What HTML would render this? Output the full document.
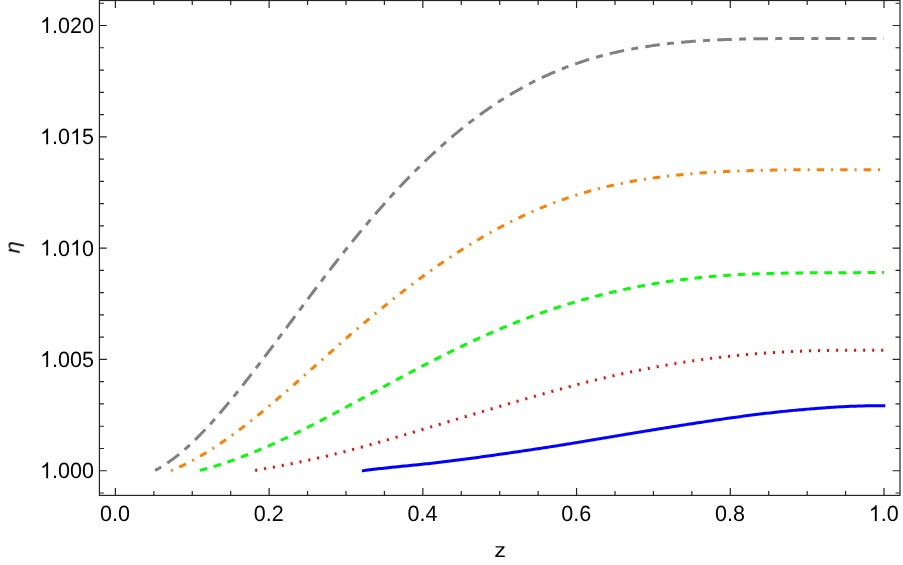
<!DOCTYPE html><html><head><meta charset="utf-8"><style>html,body{margin:0;padding:0;background:#fff}svg{display:block}text{font-family:"Liberation Sans",sans-serif;font-size:22.1px;fill:#000;text-rendering:geometricPrecision}</style></head><body>
<svg width="903" height="565" viewBox="0 0 903 565">
<rect width="903" height="565" fill="#fff"/>
<path d="M361.90 470.90 L363.90 470.62 L365.90 470.35 L367.90 470.08 L369.90 469.82 L371.90 469.57 L373.90 469.32 L375.90 469.08 L377.90 468.84 L379.90 468.61 L381.90 468.39 L383.90 468.16 L385.90 467.94 L387.90 467.73 L389.90 467.51 L391.90 467.31 L393.90 467.10 L395.90 466.89 L397.90 466.69 L399.90 466.49 L401.90 466.29 L403.90 466.09 L405.90 465.89 L407.90 465.69 L409.90 465.49 L411.90 465.29 L413.90 465.09 L415.90 464.89 L417.90 464.69 L419.90 464.48 L421.90 464.28 L423.90 464.07 L425.90 463.85 L427.90 463.64 L429.90 463.42 L431.90 463.20 L433.90 462.97 L435.90 462.75 L437.90 462.52 L439.90 462.28 L441.90 462.05 L443.90 461.81 L445.90 461.56 L447.90 461.32 L449.90 461.07 L451.90 460.82 L453.90 460.57 L455.90 460.32 L457.90 460.06 L459.90 459.80 L461.90 459.54 L463.90 459.28 L465.90 459.01 L467.90 458.75 L469.90 458.48 L471.90 458.21 L473.90 457.94 L475.90 457.67 L477.90 457.39 L479.90 457.12 L481.90 456.84 L483.90 456.57 L485.90 456.29 L487.90 456.01 L489.90 455.73 L491.90 455.45 L493.90 455.16 L495.90 454.88 L497.90 454.60 L499.90 454.31 L501.90 454.03 L503.90 453.74 L505.90 453.46 L507.90 453.17 L509.90 452.88 L511.90 452.59 L513.90 452.30 L515.90 452.01 L517.90 451.72 L519.90 451.42 L521.90 451.13 L523.90 450.83 L525.90 450.54 L527.90 450.24 L529.90 449.94 L531.90 449.64 L533.90 449.34 L535.90 449.04 L537.90 448.74 L539.90 448.43 L541.90 448.12 L543.90 447.82 L545.90 447.51 L547.90 447.20 L549.90 446.89 L551.90 446.57 L553.90 446.26 L555.90 445.94 L557.90 445.63 L559.90 445.31 L561.90 444.99 L563.90 444.67 L565.90 444.34 L567.90 444.02 L569.90 443.69 L571.90 443.37 L573.90 443.04 L575.90 442.71 L577.90 442.38 L579.90 442.05 L581.90 441.72 L583.90 441.39 L585.90 441.06 L587.90 440.72 L589.90 440.39 L591.90 440.05 L593.90 439.72 L595.90 439.38 L597.90 439.05 L599.90 438.71 L601.90 438.38 L603.90 438.04 L605.90 437.70 L607.90 437.37 L609.90 437.03 L611.90 436.70 L613.90 436.36 L615.90 436.03 L617.90 435.69 L619.90 435.36 L621.90 435.02 L623.90 434.69 L625.90 434.35 L627.90 434.02 L629.90 433.69 L631.90 433.36 L633.90 433.03 L635.90 432.70 L637.90 432.37 L639.90 432.04 L641.90 431.71 L643.90 431.38 L645.90 431.05 L647.90 430.73 L649.90 430.40 L651.90 430.07 L653.90 429.75 L655.90 429.42 L657.90 429.10 L659.90 428.78 L661.90 428.46 L663.90 428.13 L665.90 427.81 L667.90 427.49 L669.90 427.17 L671.90 426.85 L673.90 426.54 L675.90 426.22 L677.90 425.90 L679.90 425.59 L681.90 425.27 L683.90 424.96 L685.90 424.64 L687.90 424.33 L689.90 424.02 L691.90 423.71 L693.90 423.40 L695.90 423.09 L697.90 422.78 L699.90 422.47 L701.90 422.16 L703.90 421.86 L705.90 421.56 L707.90 421.25 L709.90 420.95 L711.90 420.65 L713.90 420.35 L715.90 420.06 L717.90 419.76 L719.90 419.47 L721.90 419.18 L723.90 418.89 L725.90 418.60 L727.90 418.31 L729.90 418.03 L731.90 417.75 L733.90 417.47 L735.90 417.19 L737.90 416.92 L739.90 416.65 L741.90 416.38 L743.90 416.11 L745.90 415.84 L747.90 415.58 L749.90 415.32 L751.90 415.07 L753.90 414.81 L755.90 414.56 L757.90 414.32 L759.90 414.07 L761.90 413.83 L763.90 413.59 L765.90 413.35 L767.90 413.12 L769.90 412.89 L771.90 412.67 L773.90 412.44 L775.90 412.22 L777.90 412.00 L779.90 411.79 L781.90 411.58 L783.90 411.37 L785.90 411.17 L787.90 410.96 L789.90 410.77 L791.90 410.57 L793.90 410.38 L795.90 410.19 L797.90 410.00 L799.90 409.82 L801.90 409.64 L803.90 409.46 L805.90 409.29 L807.90 409.12 L809.90 408.95 L811.90 408.79 L813.90 408.63 L815.90 408.47 L817.90 408.32 L819.90 408.17 L821.90 408.02 L823.90 407.88 L825.90 407.74 L827.90 407.60 L829.90 407.47 L831.90 407.34 L833.90 407.22 L835.90 407.10 L837.90 406.98 L839.90 406.87 L841.90 406.76 L843.90 406.66 L845.90 406.56 L847.90 406.46 L849.90 406.37 L851.90 406.29 L853.90 406.21 L855.90 406.14 L857.90 406.07 L859.90 406.00 L861.90 405.94 L863.90 405.89 L865.90 405.84 L867.90 405.80 L869.90 405.77 L871.90 405.74 L873.90 405.71 L875.90 405.70 L877.90 405.69 L879.90 405.68 L881.90 405.68 L883.90 405.68 L885.30 405.68" fill="none" stroke="#0000ff" stroke-width="3.0"/>
<path d="M255.20 470.40 L257.20 470.06 L259.20 469.70 L261.20 469.35 L263.20 468.99 L265.20 468.64 L267.20 468.28 L269.20 467.91 L271.20 467.55 L273.20 467.18 L275.20 466.81 L277.20 466.44 L279.20 466.06 L281.20 465.68 L283.20 465.30 L285.20 464.91 L287.20 464.52 L289.20 464.13 L291.20 463.74 L293.20 463.34 L295.20 462.94 L297.20 462.53 L299.20 462.12 L301.20 461.71 L303.20 461.29 L305.20 460.87 L307.20 460.45 L309.20 460.02 L311.20 459.58 L313.20 459.15 L315.20 458.70 L317.20 458.26 L319.20 457.81 L321.20 457.35 L323.20 456.89 L325.20 456.43 L327.20 455.96 L329.20 455.48 L331.20 455.00 L333.20 454.52 L335.20 454.03 L337.20 453.53 L339.20 453.03 L341.20 452.53 L343.20 452.02 L345.20 451.51 L347.20 450.99 L349.20 450.46 L351.20 449.94 L353.20 449.41 L355.20 448.87 L357.20 448.33 L359.20 447.79 L361.20 447.24 L363.20 446.69 L365.20 446.14 L367.20 445.59 L369.20 445.03 L371.20 444.46 L373.20 443.90 L375.20 443.33 L377.20 442.76 L379.20 442.19 L381.20 441.61 L383.20 441.04 L385.20 440.46 L387.20 439.88 L389.20 439.29 L391.20 438.71 L393.20 438.12 L395.20 437.53 L397.20 436.94 L399.20 436.35 L401.20 435.76 L403.20 435.17 L405.20 434.58 L407.20 433.98 L409.20 433.39 L411.20 432.80 L413.20 432.20 L415.20 431.61 L417.20 431.01 L419.20 430.41 L421.20 429.82 L423.20 429.22 L425.20 428.63 L427.20 428.03 L429.20 427.43 L431.20 426.84 L433.20 426.24 L435.20 425.65 L437.20 425.05 L439.20 424.45 L441.20 423.86 L443.20 423.26 L445.20 422.66 L447.20 422.07 L449.20 421.47 L451.20 420.87 L453.20 420.28 L455.20 419.68 L457.20 419.08 L459.20 418.49 L461.20 417.89 L463.20 417.29 L465.20 416.70 L467.20 416.10 L469.20 415.51 L471.20 414.91 L473.20 414.31 L475.20 413.72 L477.20 413.12 L479.20 412.53 L481.20 411.94 L483.20 411.34 L485.20 410.75 L487.20 410.15 L489.20 409.56 L491.20 408.97 L493.20 408.37 L495.20 407.78 L497.20 407.19 L499.20 406.60 L501.20 406.01 L503.20 405.42 L505.20 404.83 L507.20 404.24 L509.20 403.65 L511.20 403.06 L513.20 402.48 L515.20 401.89 L517.20 401.31 L519.20 400.72 L521.20 400.14 L523.20 399.56 L525.20 398.98 L527.20 398.41 L529.20 397.83 L531.20 397.26 L533.20 396.68 L535.20 396.11 L537.20 395.54 L539.20 394.98 L541.20 394.41 L543.20 393.85 L545.20 393.29 L547.20 392.73 L549.20 392.17 L551.20 391.61 L553.20 391.06 L555.20 390.51 L557.20 389.96 L559.20 389.42 L561.20 388.87 L563.20 388.33 L565.20 387.80 L567.20 387.26 L569.20 386.73 L571.20 386.20 L573.20 385.67 L575.20 385.15 L577.20 384.63 L579.20 384.11 L581.20 383.60 L583.20 383.09 L585.20 382.58 L587.20 382.07 L589.20 381.57 L591.20 381.07 L593.20 380.58 L595.20 380.09 L597.20 379.60 L599.20 379.11 L601.20 378.63 L603.20 378.16 L605.20 377.68 L607.20 377.21 L609.20 376.74 L611.20 376.28 L613.20 375.82 L615.20 375.36 L617.20 374.91 L619.20 374.46 L621.20 374.02 L623.20 373.58 L625.20 373.14 L627.20 372.71 L629.20 372.28 L631.20 371.85 L633.20 371.43 L635.20 371.02 L637.20 370.60 L639.20 370.20 L641.20 369.79 L643.20 369.39 L645.20 369.00 L647.20 368.61 L649.20 368.22 L651.20 367.84 L653.20 367.46 L655.20 367.09 L657.20 366.72 L659.20 366.35 L661.20 365.99 L663.20 365.64 L665.20 365.28 L667.20 364.94 L669.20 364.59 L671.20 364.25 L673.20 363.92 L675.20 363.59 L677.20 363.26 L679.20 362.94 L681.20 362.63 L683.20 362.31 L685.20 362.00 L687.20 361.70 L689.20 361.40 L691.20 361.10 L693.20 360.81 L695.20 360.52 L697.20 360.24 L699.20 359.96 L701.20 359.69 L703.20 359.42 L705.20 359.15 L707.20 358.89 L709.20 358.63 L711.20 358.38 L713.20 358.13 L715.20 357.88 L717.20 357.64 L719.20 357.40 L721.20 357.17 L723.20 356.94 L725.20 356.72 L727.20 356.50 L729.20 356.28 L731.20 356.07 L733.20 355.86 L735.20 355.66 L737.20 355.45 L739.20 355.26 L741.20 355.07 L743.20 354.88 L745.20 354.69 L747.20 354.51 L749.20 354.34 L751.20 354.17 L753.20 354.00 L755.20 353.83 L757.20 353.67 L759.20 353.52 L761.20 353.37 L763.20 353.22 L765.20 353.07 L767.20 352.93 L769.20 352.80 L771.20 352.66 L773.20 352.54 L775.20 352.41 L777.20 352.29 L779.20 352.17 L781.20 352.06 L783.20 351.95 L785.20 351.84 L787.20 351.74 L789.20 351.64 L791.20 351.55 L793.20 351.46 L795.20 351.37 L797.20 351.29 L799.20 351.21 L801.20 351.13 L803.20 351.06 L805.20 350.99 L807.20 350.93 L809.20 350.87 L811.20 350.81 L813.20 350.76 L815.20 350.71 L817.20 350.66 L819.20 350.61 L821.20 350.57 L823.20 350.53 L825.20 350.50 L827.20 350.46 L829.20 350.43 L831.20 350.41 L833.20 350.38 L835.20 350.36 L837.20 350.34 L839.20 350.32 L841.20 350.30 L843.20 350.28 L845.20 350.27 L847.20 350.26 L849.20 350.25 L851.20 350.24 L853.20 350.23 L855.20 350.22 L857.20 350.22 L859.20 350.21 L861.20 350.21 L863.20 350.21 L865.20 350.20 L867.20 350.20 L869.20 350.20 L871.20 350.20 L873.20 350.20 L875.20 350.20 L877.20 350.20 L879.20 350.20 L881.20 350.20 L883.20 350.20 L884.00 350.20" fill="none" stroke="#ff0000" stroke-width="3.0" stroke-dasharray="2.00 7.02"/>
<path d="M199.80 470.40 L201.80 469.88 L203.80 469.34 L205.80 468.79 L207.80 468.23 L209.80 467.66 L211.80 467.07 L213.80 466.47 L215.80 465.86 L217.80 465.24 L219.80 464.61 L221.80 463.96 L223.80 463.31 L225.80 462.64 L227.80 461.96 L229.80 461.27 L231.80 460.57 L233.80 459.86 L235.80 459.14 L237.80 458.40 L239.80 457.66 L241.80 456.91 L243.80 456.15 L245.80 455.37 L247.80 454.59 L249.80 453.80 L251.80 453.00 L253.80 452.19 L255.80 451.37 L257.80 450.54 L259.80 449.70 L261.80 448.86 L263.80 448.00 L265.80 447.14 L267.80 446.27 L269.80 445.39 L271.80 444.50 L273.80 443.60 L275.80 442.70 L277.80 441.79 L279.80 440.87 L281.80 439.94 L283.80 439.01 L285.80 438.06 L287.80 437.12 L289.80 436.16 L291.80 435.20 L293.80 434.23 L295.80 433.26 L297.80 432.28 L299.80 431.29 L301.80 430.30 L303.80 429.30 L305.80 428.30 L307.80 427.29 L309.80 426.28 L311.80 425.26 L313.80 424.24 L315.80 423.21 L317.80 422.18 L319.80 421.14 L321.80 420.10 L323.80 419.05 L325.80 418.01 L327.80 416.95 L329.80 415.90 L331.80 414.84 L333.80 413.78 L335.80 412.71 L337.80 411.65 L339.80 410.57 L341.80 409.50 L343.80 408.43 L345.80 407.35 L347.80 406.27 L349.80 405.19 L351.80 404.11 L353.80 403.03 L355.80 401.94 L357.80 400.86 L359.80 399.77 L361.80 398.68 L363.80 397.59 L365.80 396.50 L367.80 395.42 L369.80 394.33 L371.80 393.24 L373.80 392.15 L375.80 391.06 L377.80 389.97 L379.80 388.89 L381.80 387.80 L383.80 386.72 L385.80 385.63 L387.80 384.55 L389.80 383.47 L391.80 382.39 L393.80 381.31 L395.80 380.23 L397.80 379.15 L399.80 378.08 L401.80 377.01 L403.80 375.93 L405.80 374.87 L407.80 373.80 L409.80 372.74 L411.80 371.68 L413.80 370.62 L415.80 369.56 L417.80 368.51 L419.80 367.46 L421.80 366.41 L423.80 365.37 L425.80 364.33 L427.80 363.29 L429.80 362.26 L431.80 361.23 L433.80 360.20 L435.80 359.18 L437.80 358.16 L439.80 357.14 L441.80 356.13 L443.80 355.13 L445.80 354.13 L447.80 353.13 L449.80 352.14 L451.80 351.15 L453.80 350.17 L455.80 349.19 L457.80 348.22 L459.80 347.26 L461.80 346.30 L463.80 345.34 L465.80 344.39 L467.80 343.44 L469.80 342.50 L471.80 341.57 L473.80 340.64 L475.80 339.72 L477.80 338.80 L479.80 337.89 L481.80 336.98 L483.80 336.08 L485.80 335.19 L487.80 334.30 L489.80 333.42 L491.80 332.54 L493.80 331.67 L495.80 330.81 L497.80 329.95 L499.80 329.09 L501.80 328.25 L503.80 327.41 L505.80 326.57 L507.80 325.75 L509.80 324.93 L511.80 324.12 L513.80 323.31 L515.80 322.51 L517.80 321.72 L519.80 320.94 L521.80 320.16 L523.80 319.39 L525.80 318.62 L527.80 317.86 L529.80 317.11 L531.80 316.37 L533.80 315.63 L535.80 314.91 L537.80 314.18 L539.80 313.47 L541.80 312.76 L543.80 312.06 L545.80 311.37 L547.80 310.68 L549.80 310.00 L551.80 309.33 L553.80 308.66 L555.80 308.00 L557.80 307.35 L559.80 306.71 L561.80 306.07 L563.80 305.44 L565.80 304.81 L567.80 304.19 L569.80 303.58 L571.80 302.98 L573.80 302.38 L575.80 301.79 L577.80 301.21 L579.80 300.63 L581.80 300.06 L583.80 299.50 L585.80 298.94 L587.80 298.39 L589.80 297.84 L591.80 297.31 L593.80 296.77 L595.80 296.25 L597.80 295.73 L599.80 295.22 L601.80 294.71 L603.80 294.21 L605.80 293.72 L607.80 293.23 L609.80 292.75 L611.80 292.28 L613.80 291.81 L615.80 291.35 L617.80 290.89 L619.80 290.44 L621.80 290.00 L623.80 289.56 L625.80 289.13 L627.80 288.71 L629.80 288.29 L631.80 287.88 L633.80 287.48 L635.80 287.08 L637.80 286.69 L639.80 286.31 L641.80 285.93 L643.80 285.55 L645.80 285.19 L647.80 284.83 L649.80 284.48 L651.80 284.13 L653.80 283.79 L655.80 283.45 L657.80 283.12 L659.80 282.80 L661.80 282.48 L663.80 282.17 L665.80 281.87 L667.80 281.57 L669.80 281.28 L671.80 280.99 L673.80 280.71 L675.80 280.43 L677.80 280.16 L679.80 279.90 L681.80 279.64 L683.80 279.39 L685.80 279.14 L687.80 278.90 L689.80 278.67 L691.80 278.44 L693.80 278.22 L695.80 278.00 L697.80 277.79 L699.80 277.58 L701.80 277.38 L703.80 277.18 L705.80 276.99 L707.80 276.81 L709.80 276.63 L711.80 276.46 L713.80 276.29 L715.80 276.13 L717.80 275.97 L719.80 275.82 L721.80 275.67 L723.80 275.53 L725.80 275.39 L727.80 275.26 L729.80 275.13 L731.80 275.01 L733.80 274.89 L735.80 274.77 L737.80 274.67 L739.80 274.56 L741.80 274.46 L743.80 274.36 L745.80 274.27 L747.80 274.18 L749.80 274.10 L751.80 274.02 L753.80 273.94 L755.80 273.87 L757.80 273.80 L759.80 273.73 L761.80 273.67 L763.80 273.60 L765.80 273.55 L767.80 273.49 L769.80 273.44 L771.80 273.39 L773.80 273.34 L775.80 273.29 L777.80 273.25 L779.80 273.21 L781.80 273.17 L783.80 273.14 L785.80 273.10 L787.80 273.07 L789.80 273.04 L791.80 273.01 L793.80 272.98 L795.80 272.95 L797.80 272.93 L799.80 272.91 L801.80 272.88 L803.80 272.86 L805.80 272.84 L807.80 272.83 L809.80 272.81 L811.80 272.79 L813.80 272.78 L815.80 272.76 L817.80 272.75 L819.80 272.74 L821.80 272.72 L823.80 272.71 L825.80 272.70 L827.80 272.70 L829.80 272.69 L831.80 272.68 L833.80 272.67 L835.80 272.67 L837.80 272.66 L839.80 272.65 L841.80 272.65 L843.80 272.65 L845.80 272.64 L847.80 272.64 L849.80 272.64 L851.80 272.63 L853.80 272.63 L855.80 272.63 L857.80 272.63 L859.80 272.62 L861.80 272.62 L863.80 272.62 L865.80 272.62 L867.80 272.62 L869.80 272.62 L871.80 272.61 L873.80 272.61 L875.80 272.61 L877.80 272.61 L879.80 272.61 L881.80 272.60 L883.80 272.60 L884.00 272.60" fill="none" stroke="#00ff00" stroke-width="3.0" stroke-dasharray="7.60 6.84"/>
<path d="M171.00 470.60 L173.00 469.79 L175.00 468.95 L177.00 468.08 L179.00 467.19 L181.00 466.27 L183.00 465.33 L185.00 464.36 L187.00 463.36 L189.00 462.34 L191.00 461.30 L193.00 460.24 L195.00 459.15 L197.00 458.04 L199.00 456.90 L201.00 455.75 L203.00 454.57 L205.00 453.37 L207.00 452.15 L209.00 450.91 L211.00 449.65 L213.00 448.37 L215.00 447.08 L217.00 445.76 L219.00 444.42 L221.00 443.07 L223.00 441.70 L225.00 440.31 L227.00 438.90 L229.00 437.48 L231.00 436.04 L233.00 434.59 L235.00 433.12 L237.00 431.64 L239.00 430.14 L241.00 428.62 L243.00 427.10 L245.00 425.56 L247.00 424.00 L249.00 422.44 L251.00 420.86 L253.00 419.27 L255.00 417.67 L257.00 416.05 L259.00 414.43 L261.00 412.79 L263.00 411.15 L265.00 409.50 L267.00 407.83 L269.00 406.16 L271.00 404.48 L273.00 402.79 L275.00 401.09 L277.00 399.39 L279.00 397.68 L281.00 395.96 L283.00 394.23 L285.00 392.50 L287.00 390.76 L289.00 389.02 L291.00 387.27 L293.00 385.52 L295.00 383.76 L297.00 382.00 L299.00 380.24 L301.00 378.47 L303.00 376.70 L305.00 374.92 L307.00 373.14 L309.00 371.37 L311.00 369.59 L313.00 367.81 L315.00 366.03 L317.00 364.24 L319.00 362.46 L321.00 360.68 L323.00 358.90 L325.00 357.12 L327.00 355.34 L329.00 353.56 L331.00 351.79 L333.00 350.02 L335.00 348.25 L337.00 346.48 L339.00 344.72 L341.00 342.96 L343.00 341.20 L345.00 339.45 L347.00 337.71 L349.00 335.96 L351.00 334.23 L353.00 332.50 L355.00 330.78 L357.00 329.06 L359.00 327.35 L361.00 325.64 L363.00 323.94 L365.00 322.25 L367.00 320.56 L369.00 318.88 L371.00 317.21 L373.00 315.54 L375.00 313.88 L377.00 312.22 L379.00 310.58 L381.00 308.94 L383.00 307.31 L385.00 305.68 L387.00 304.06 L389.00 302.45 L391.00 300.85 L393.00 299.25 L395.00 297.66 L397.00 296.09 L399.00 294.51 L401.00 292.95 L403.00 291.39 L405.00 289.85 L407.00 288.31 L409.00 286.78 L411.00 285.25 L413.00 283.74 L415.00 282.23 L417.00 280.74 L419.00 279.25 L421.00 277.77 L423.00 276.30 L425.00 274.84 L427.00 273.39 L429.00 271.95 L431.00 270.52 L433.00 269.10 L435.00 267.68 L437.00 266.28 L439.00 264.89 L441.00 263.51 L443.00 262.13 L445.00 260.77 L447.00 259.42 L449.00 258.07 L451.00 256.74 L453.00 255.42 L455.00 254.11 L457.00 252.81 L459.00 251.51 L461.00 250.23 L463.00 248.96 L465.00 247.70 L467.00 246.45 L469.00 245.21 L471.00 243.98 L473.00 242.77 L475.00 241.56 L477.00 240.36 L479.00 239.18 L481.00 238.00 L483.00 236.83 L485.00 235.68 L487.00 234.54 L489.00 233.41 L491.00 232.28 L493.00 231.17 L495.00 230.08 L497.00 228.99 L499.00 227.91 L501.00 226.85 L503.00 225.79 L505.00 224.75 L507.00 223.72 L509.00 222.70 L511.00 221.69 L513.00 220.70 L515.00 219.71 L517.00 218.74 L519.00 217.78 L521.00 216.83 L523.00 215.89 L525.00 214.96 L527.00 214.05 L529.00 213.14 L531.00 212.25 L533.00 211.37 L535.00 210.50 L537.00 209.65 L539.00 208.80 L541.00 207.97 L543.00 207.15 L545.00 206.34 L547.00 205.54 L549.00 204.75 L551.00 203.97 L553.00 203.21 L555.00 202.45 L557.00 201.71 L559.00 200.98 L561.00 200.26 L563.00 199.54 L565.00 198.85 L567.00 198.16 L569.00 197.48 L571.00 196.81 L573.00 196.15 L575.00 195.51 L577.00 194.87 L579.00 194.25 L581.00 193.63 L583.00 193.03 L585.00 192.44 L587.00 191.85 L589.00 191.28 L591.00 190.72 L593.00 190.17 L595.00 189.62 L597.00 189.09 L599.00 188.57 L601.00 188.06 L603.00 187.56 L605.00 187.06 L607.00 186.58 L609.00 186.11 L611.00 185.65 L613.00 185.19 L615.00 184.75 L617.00 184.32 L619.00 183.89 L621.00 183.48 L623.00 183.07 L625.00 182.68 L627.00 182.29 L629.00 181.91 L631.00 181.54 L633.00 181.18 L635.00 180.83 L637.00 180.48 L639.00 180.14 L641.00 179.82 L643.00 179.50 L645.00 179.18 L647.00 178.88 L649.00 178.58 L651.00 178.29 L653.00 178.00 L655.00 177.72 L657.00 177.45 L659.00 177.19 L661.00 176.93 L663.00 176.68 L665.00 176.44 L667.00 176.20 L669.00 175.97 L671.00 175.74 L673.00 175.52 L675.00 175.31 L677.00 175.10 L679.00 174.89 L681.00 174.70 L683.00 174.51 L685.00 174.32 L687.00 174.14 L689.00 173.96 L691.00 173.79 L693.00 173.62 L695.00 173.46 L697.00 173.31 L699.00 173.15 L701.00 173.01 L703.00 172.86 L705.00 172.72 L707.00 172.59 L709.00 172.46 L711.00 172.33 L713.00 172.21 L715.00 172.09 L717.00 171.98 L719.00 171.87 L721.00 171.76 L723.00 171.66 L725.00 171.56 L727.00 171.46 L729.00 171.37 L731.00 171.28 L733.00 171.20 L735.00 171.12 L737.00 171.04 L739.00 170.96 L741.00 170.89 L743.00 170.83 L745.00 170.76 L747.00 170.70 L749.00 170.64 L751.00 170.58 L753.00 170.52 L755.00 170.47 L757.00 170.42 L759.00 170.37 L761.00 170.33 L763.00 170.28 L765.00 170.24 L767.00 170.20 L769.00 170.16 L771.00 170.13 L773.00 170.10 L775.00 170.06 L777.00 170.03 L779.00 170.01 L781.00 169.98 L783.00 169.96 L785.00 169.93 L787.00 169.91 L789.00 169.89 L791.00 169.88 L793.00 169.86 L795.00 169.84 L797.00 169.83 L799.00 169.82 L801.00 169.81 L803.00 169.80 L805.00 169.79 L807.00 169.78 L809.00 169.78 L811.00 169.77 L813.00 169.77 L815.00 169.77 L817.00 169.77 L819.00 169.76 L821.00 169.76 L823.00 169.76 L825.00 169.76 L827.00 169.76 L829.00 169.76 L831.00 169.76 L833.00 169.76 L835.00 169.76 L837.00 169.76 L839.00 169.76 L841.00 169.76 L843.00 169.76 L845.00 169.76 L847.00 169.76 L849.00 169.76 L851.00 169.76 L853.00 169.76 L855.00 169.76 L857.00 169.76 L859.00 169.76 L861.00 169.76 L863.00 169.76 L865.00 169.76 L867.00 169.76 L869.00 169.76 L871.00 169.76 L873.00 169.76 L875.00 169.76 L877.00 169.76 L879.00 169.76 L881.00 169.76 L883.00 169.76 L884.00 169.76" fill="none" stroke="#ff8000" stroke-width="3.0" stroke-dasharray="2.00 7.08 7.30 7.08"/>
<path d="M155.10 470.40 L157.10 469.33 L159.10 468.21 L161.10 467.03 L163.10 465.80 L165.10 464.53 L167.10 463.20 L169.10 461.82 L171.10 460.39 L173.10 458.92 L175.10 457.39 L177.10 455.83 L179.10 454.22 L181.10 452.56 L183.10 450.86 L185.10 449.13 L187.10 447.35 L189.10 445.53 L191.10 443.67 L193.10 441.77 L195.10 439.84 L197.10 437.87 L199.10 435.86 L201.10 433.82 L203.10 431.75 L205.10 429.65 L207.10 427.51 L209.10 425.35 L211.10 423.16 L213.10 420.93 L215.10 418.68 L217.10 416.41 L219.10 414.10 L221.10 411.78 L223.10 409.43 L225.10 407.05 L227.10 404.66 L229.10 402.24 L231.10 399.81 L233.10 397.36 L235.10 394.89 L237.10 392.40 L239.10 389.89 L241.10 387.37 L243.10 384.84 L245.10 382.29 L247.10 379.74 L249.10 377.17 L251.10 374.59 L253.10 372.00 L255.10 369.39 L257.10 366.78 L259.10 364.17 L261.10 361.54 L263.10 358.90 L265.10 356.26 L267.10 353.61 L269.10 350.96 L271.10 348.30 L273.10 345.63 L275.10 342.96 L277.10 340.29 L279.10 337.61 L281.10 334.93 L283.10 332.24 L285.10 329.56 L287.10 326.87 L289.10 324.18 L291.10 321.49 L293.10 318.80 L295.10 316.11 L297.10 313.43 L299.10 310.74 L301.10 308.05 L303.10 305.37 L305.10 302.69 L307.10 300.02 L309.10 297.35 L311.10 294.68 L313.10 292.02 L315.10 289.36 L317.10 286.71 L319.10 284.07 L321.10 281.43 L323.10 278.80 L325.10 276.18 L327.10 273.57 L329.10 270.96 L331.10 268.37 L333.10 265.78 L335.10 263.21 L337.10 260.65 L339.10 258.10 L341.10 255.56 L343.10 253.03 L345.10 250.52 L347.10 248.02 L349.10 245.53 L351.10 243.05 L353.10 240.59 L355.10 238.13 L357.10 235.70 L359.10 233.27 L361.10 230.86 L363.10 228.46 L365.10 226.07 L367.10 223.70 L369.10 221.33 L371.10 218.99 L373.10 216.66 L375.10 214.34 L377.10 212.03 L379.10 209.74 L381.10 207.46 L383.10 205.20 L385.10 202.95 L387.10 200.72 L389.10 198.50 L391.10 196.30 L393.10 194.11 L395.10 191.93 L397.10 189.78 L399.10 187.63 L401.10 185.50 L403.10 183.39 L405.10 181.29 L407.10 179.21 L409.10 177.15 L411.10 175.10 L413.10 173.06 L415.10 171.04 L417.10 169.04 L419.10 167.06 L421.10 165.09 L423.10 163.14 L425.10 161.20 L427.10 159.28 L429.10 157.38 L431.10 155.50 L433.10 153.63 L435.10 151.78 L437.10 149.95 L439.10 148.13 L441.10 146.34 L443.10 144.55 L445.10 142.79 L447.10 141.04 L449.10 139.31 L451.10 137.60 L453.10 135.90 L455.10 134.22 L457.10 132.56 L459.10 130.91 L461.10 129.29 L463.10 127.67 L465.10 126.08 L467.10 124.50 L469.10 122.94 L471.10 121.40 L473.10 119.87 L475.10 118.36 L477.10 116.87 L479.10 115.40 L481.10 113.94 L483.10 112.50 L485.10 111.07 L487.10 109.66 L489.10 108.27 L491.10 106.90 L493.10 105.54 L495.10 104.20 L497.10 102.88 L499.10 101.58 L501.10 100.29 L503.10 99.02 L505.10 97.76 L507.10 96.52 L509.10 95.30 L511.10 94.10 L513.10 92.91 L515.10 91.74 L517.10 90.59 L519.10 89.45 L521.10 88.33 L523.10 87.23 L525.10 86.14 L527.10 85.07 L529.10 84.02 L531.10 82.98 L533.10 81.96 L535.10 80.96 L537.10 79.97 L539.10 79.00 L541.10 78.04 L543.10 77.10 L545.10 76.17 L547.10 75.26 L549.10 74.36 L551.10 73.48 L553.10 72.62 L555.10 71.76 L557.10 70.93 L559.10 70.10 L561.10 69.30 L563.10 68.50 L565.10 67.72 L567.10 66.95 L569.10 66.20 L571.10 65.46 L573.10 64.74 L575.10 64.03 L577.10 63.33 L579.10 62.64 L581.10 61.97 L583.10 61.31 L585.10 60.66 L587.10 60.03 L589.10 59.41 L591.10 58.80 L593.10 58.20 L595.10 57.62 L597.10 57.04 L599.10 56.48 L601.10 55.93 L603.10 55.40 L605.10 54.87 L607.10 54.36 L609.10 53.87 L611.10 53.38 L613.10 52.91 L615.10 52.45 L617.10 52.00 L619.10 51.56 L621.10 51.13 L623.10 50.72 L625.10 50.31 L627.10 49.92 L629.10 49.53 L631.10 49.16 L633.10 48.79 L635.10 48.44 L637.10 48.09 L639.10 47.75 L641.10 47.42 L643.10 47.10 L645.10 46.79 L647.10 46.48 L649.10 46.19 L651.10 45.89 L653.10 45.61 L655.10 45.33 L657.10 45.06 L659.10 44.80 L661.10 44.54 L663.10 44.29 L665.10 44.05 L667.10 43.81 L669.10 43.58 L671.10 43.36 L673.10 43.14 L675.10 42.93 L677.10 42.73 L679.10 42.54 L681.10 42.35 L683.10 42.16 L685.10 41.99 L687.10 41.82 L689.10 41.65 L691.10 41.49 L693.10 41.34 L695.10 41.19 L697.10 41.05 L699.10 40.92 L701.10 40.79 L703.10 40.66 L705.10 40.54 L707.10 40.42 L709.10 40.31 L711.10 40.21 L713.10 40.11 L715.10 40.01 L717.10 39.92 L719.10 39.83 L721.10 39.75 L723.10 39.67 L725.10 39.60 L727.10 39.52 L729.10 39.46 L731.10 39.39 L733.10 39.33 L735.10 39.27 L737.10 39.22 L739.10 39.16 L741.10 39.11 L743.10 39.07 L745.10 39.02 L747.10 38.98 L749.10 38.94 L751.10 38.91 L753.10 38.87 L755.10 38.84 L757.10 38.81 L759.10 38.79 L761.10 38.76 L763.10 38.74 L765.10 38.72 L767.10 38.70 L769.10 38.68 L771.10 38.66 L773.10 38.64 L775.10 38.63 L777.10 38.62 L779.10 38.61 L781.10 38.60 L783.10 38.59 L785.10 38.58 L787.10 38.57 L789.10 38.56 L791.10 38.55 L793.10 38.55 L795.10 38.54 L797.10 38.54 L799.10 38.53 L801.10 38.53 L803.10 38.52 L805.10 38.52 L807.10 38.51 L809.10 38.51 L811.10 38.50 L813.10 38.50 L815.10 38.49 L817.10 38.49 L819.10 38.48 L821.10 38.48 L823.10 38.48 L825.10 38.47 L827.10 38.47 L829.10 38.46 L831.10 38.46 L833.10 38.46 L835.10 38.45 L837.10 38.45 L839.10 38.45 L841.10 38.44 L843.10 38.44 L845.10 38.44 L847.10 38.43 L849.10 38.43 L851.10 38.43 L853.10 38.43 L855.10 38.43 L857.10 38.43 L859.10 38.43 L861.10 38.43 L863.10 38.43 L865.10 38.43 L867.10 38.43 L869.10 38.43 L871.10 38.43 L873.10 38.43 L875.10 38.43 L877.10 38.43 L879.10 38.43 L881.10 38.43 L883.10 38.43 L884.00 38.43" fill="none" stroke="#808080" stroke-width="3.0" stroke-dasharray="7.00 7.22 14.70 7.22"/>
<path d="M115.40 495.42 v-7.40 M115.40 0.50 v7.40 M153.83 495.42 v-4.50 M153.83 0.50 v4.50 M192.26 495.42 v-4.50 M192.26 0.50 v4.50 M230.69 495.42 v-4.50 M230.69 0.50 v4.50 M269.12 495.42 v-7.40 M269.12 0.50 v7.40 M307.55 495.42 v-4.50 M307.55 0.50 v4.50 M345.98 495.42 v-4.50 M345.98 0.50 v4.50 M384.41 495.42 v-4.50 M384.41 0.50 v4.50 M422.84 495.42 v-7.40 M422.84 0.50 v7.40 M461.27 495.42 v-4.50 M461.27 0.50 v4.50 M499.70 495.42 v-4.50 M499.70 0.50 v4.50 M538.13 495.42 v-4.50 M538.13 0.50 v4.50 M576.56 495.42 v-7.40 M576.56 0.50 v7.40 M614.99 495.42 v-4.50 M614.99 0.50 v4.50 M653.42 495.42 v-4.50 M653.42 0.50 v4.50 M691.85 495.42 v-4.50 M691.85 0.50 v4.50 M730.28 495.42 v-7.40 M730.28 0.50 v7.40 M768.71 495.42 v-4.50 M768.71 0.50 v4.50 M807.14 495.42 v-4.50 M807.14 0.50 v4.50 M845.57 495.42 v-4.50 M845.57 0.50 v4.50 M884.00 495.42 v-7.40 M884.00 0.50 v7.40 M99.42 493.02 h4.50 M900.00 493.02 h-4.50 M99.42 470.76 h7.40 M900.00 470.76 h-7.40 M99.42 448.50 h4.50 M900.00 448.50 h-4.50 M99.42 426.23 h4.50 M900.00 426.23 h-4.50 M99.42 403.97 h4.50 M900.00 403.97 h-4.50 M99.42 381.71 h4.50 M900.00 381.71 h-4.50 M99.42 359.44 h7.40 M900.00 359.44 h-7.40 M99.42 337.18 h4.50 M900.00 337.18 h-4.50 M99.42 314.92 h4.50 M900.00 314.92 h-4.50 M99.42 292.66 h4.50 M900.00 292.66 h-4.50 M99.42 270.39 h4.50 M900.00 270.39 h-4.50 M99.42 248.13 h7.40 M900.00 248.13 h-7.40 M99.42 225.87 h4.50 M900.00 225.87 h-4.50 M99.42 203.60 h4.50 M900.00 203.60 h-4.50 M99.42 181.34 h4.50 M900.00 181.34 h-4.50 M99.42 159.08 h4.50 M900.00 159.08 h-4.50 M99.42 136.81 h7.40 M900.00 136.81 h-7.40 M99.42 114.55 h4.50 M900.00 114.55 h-4.50 M99.42 92.29 h4.50 M900.00 92.29 h-4.50 M99.42 70.03 h4.50 M900.00 70.03 h-4.50 M99.42 47.76 h4.50 M900.00 47.76 h-4.50 M99.42 25.50 h7.40 M900.00 25.50 h-7.40 M99.42 3.24 h4.50 M900.00 3.24 h-4.50" stroke="#242424" stroke-width="1.2" fill="none"/>
<rect x="99.42" y="0.50" width="800.58" height="494.92" fill="none" stroke="#242424" stroke-width="1.2"/>
<g opacity="0.999">
<g transform="translate(100.12 521.10) scale(0.975 1)"><text x="0.00" y="0">0.0</text></g>
<g transform="translate(253.84 521.10) scale(0.975 1)"><text x="0.00" y="0">0.2</text></g>
<g transform="translate(407.56 521.10) scale(0.975 1)"><text x="0.00" y="0">0.4</text></g>
<g transform="translate(561.28 521.10) scale(0.975 1)"><text x="0.00" y="0">0.6</text></g>
<g transform="translate(715.00 521.10) scale(0.975 1)"><text x="0.00" y="0">0.8</text></g>
<g transform="translate(868.72 521.10) scale(0.975 1)"><path d="M763 0H583V1147Q518 1085 412.5 1023Q307 961 223 930V1104Q374 1175 487 1276Q600 1377 647 1472H763Z" transform="translate(0.00 0) scale(0.010791 -0.010791)" fill="#000"/><text x="12.29" y="0">.0</text></g>
<g transform="translate(40.09 478.21) scale(0.975 1)"><path d="M763 0H583V1147Q518 1085 412.5 1023Q307 961 223 930V1104Q374 1175 487 1276Q600 1377 647 1472H763Z" transform="translate(0.00 0) scale(0.010791 -0.010791)" fill="#000"/><text x="12.29" y="0">.000</text></g>
<g transform="translate(40.09 366.89) scale(0.975 1)"><path d="M763 0H583V1147Q518 1085 412.5 1023Q307 961 223 930V1104Q374 1175 487 1276Q600 1377 647 1472H763Z" transform="translate(0.00 0) scale(0.010791 -0.010791)" fill="#000"/><text x="12.29" y="0">.005</text></g>
<g transform="translate(40.09 255.58) scale(0.975 1)"><path d="M763 0H583V1147Q518 1085 412.5 1023Q307 961 223 930V1104Q374 1175 487 1276Q600 1377 647 1472H763Z" transform="translate(0.00 0) scale(0.010791 -0.010791)" fill="#000"/><text x="12.29" y="0">.0</text><path d="M763 0H583V1147Q518 1085 412.5 1023Q307 961 223 930V1104Q374 1175 487 1276Q600 1377 647 1472H763Z" transform="translate(30.72 0) scale(0.010791 -0.010791)" fill="#000"/><text x="43.01" y="0">0</text></g>
<g transform="translate(40.09 144.26) scale(0.975 1)"><path d="M763 0H583V1147Q518 1085 412.5 1023Q307 961 223 930V1104Q374 1175 487 1276Q600 1377 647 1472H763Z" transform="translate(0.00 0) scale(0.010791 -0.010791)" fill="#000"/><text x="12.29" y="0">.0</text><path d="M763 0H583V1147Q518 1085 412.5 1023Q307 961 223 930V1104Q374 1175 487 1276Q600 1377 647 1472H763Z" transform="translate(30.72 0) scale(0.010791 -0.010791)" fill="#000"/><text x="43.01" y="0">5</text></g>
<g transform="translate(40.09 32.95) scale(0.975 1)"><path d="M763 0H583V1147Q518 1085 412.5 1023Q307 961 223 930V1104Q374 1175 487 1276Q600 1377 647 1472H763Z" transform="translate(0.00 0) scale(0.010791 -0.010791)" fill="#000"/><text x="12.29" y="0">.020</text></g>
<text transform="translate(500 557) scale(1.06 0.93)" text-anchor="middle">z</text>
<text transform="translate(19.7 247.2) rotate(-90) scale(1 0.95)" text-anchor="middle" font-style="italic">η</text>
</g>
</svg></body></html>
